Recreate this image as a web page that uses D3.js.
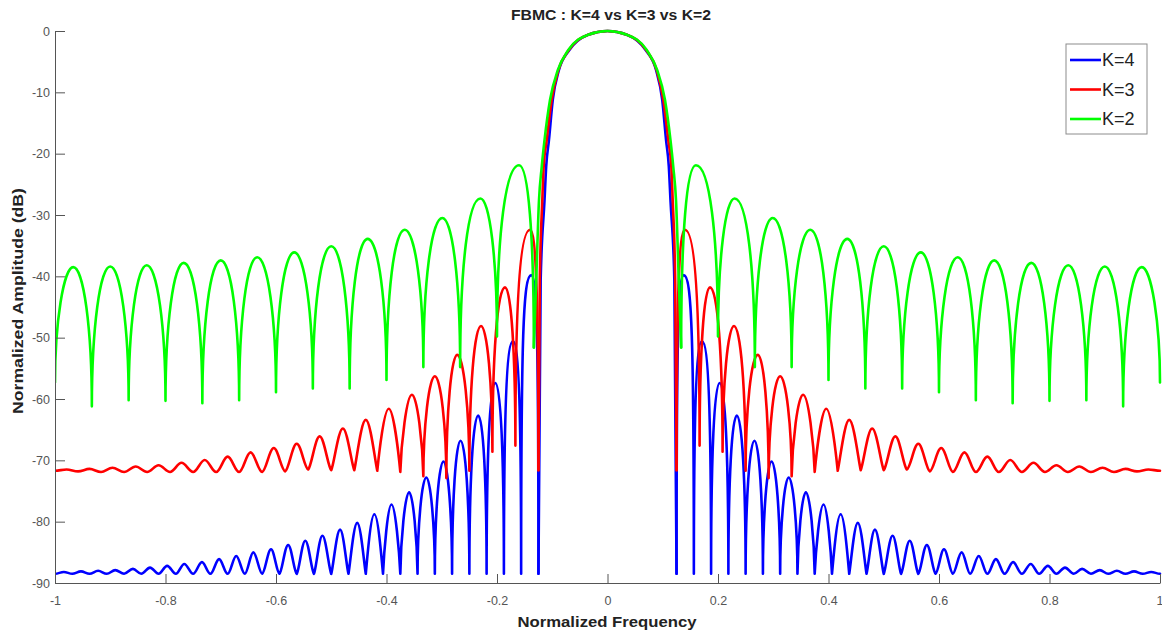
<!DOCTYPE html>
<html>
<head>
<meta charset="utf-8">
<script src="https://cdn.jsdelivr.net/npm/d3@7"></script>
<style>
  body { margin: 0; background: #fff; }
  svg { font-family: "Liberation Sans", Arial, sans-serif; }
</style>
</head>
<body>
<script>
// ---- data (positive frequencies, the plot is symmetric) ----
var xTicks = [-1, -0.8, -0.6, -0.4, -0.2, 0, 0.2, 0.4, 0.6, 0.8, 1];
var xTickLabels = ["-1", "-0.8", "-0.6", "-0.4", "-0.2", "0", "0.2", "0.4", "0.6", "0.8", "1"];
var yTicks = [0, -10, -20, -30, -40, -50, -60, -70, -80, -90];
var yTickLabels = ["0", "-10", "-20", "-30", "-40", "-50", "-60", "-70", "-80", "-90"];

// main lobe: levels (dB) and where each curve crosses them
var mainLevels = [0, -0.6, -3.1, -6.4, -11.2, -17.8, -22.1, -27.6, -40.6];
var k4MainF = [0, 0.035, 0.069, 0.088, 0.099, 0.106, 0.111, 0.114, 0.121];
var k3MainF = [0, 0.035, 0.070, 0.089, 0.101, 0.110, 0.1155, 0.118, 0.1225];
var k2MainF = [0, 0.035, 0.071, 0.090, 0.104, 0.114, 0.119, 0.124, 0.129];

// K=4 side lobes
var k4NullF = [0.125, 0.1563, 0.1875, 0.2188, 0.25, 0.2813, 0.3125, 0.3438, 0.375, 0.4063,
  0.4375, 0.4688, 0.5, 0.5313, 0.5625, 0.5938, 0.625, 0.6563, 0.6875, 0.7188, 0.75, 0.7813,
  0.8125, 0.8438, 0.875, 0.9063, 0.9375, 0.9688, 1];
var k4NullDb = [-88.5, -88.5, -88.5, -88.5, -88.5, -88.5, -88.5, -88.5, -88.5, -88.5,
  -88.5, -88.5, -88.5, -88.5, -88.5, -88.5, -88.5, -88.5, -88.5, -88.5, -88.5, -88.5,
  -88.5, -88.5, -88.5, -88.5, -88.5, -88.5, -88.5];
var k4PeakF = [0.138, 0.171, 0.203, 0.234, 0.266, 0.297, 0.328, 0.359, 0.391, 0.422, 0.453,
  0.484, 0.516, 0.547, 0.578, 0.609, 0.641, 0.672, 0.703, 0.734, 0.766, 0.797, 0.828, 0.859,
  0.891, 0.922, 0.953, 0.984];
var k4PeakDb = [-39.8, -50.6, -57.4, -62.7, -66.8, -70.2, -72.8, -75.2, -77.2, -78.8, -80.2,
  -81.3, -82.3, -83.1, -83.8, -84.5, -85.0, -85.6, -86.1, -86.6, -86.9, -87.2, -87.5, -87.7,
  -87.9, -88.0, -88.1, -88.2];

// K=3 side lobes
var k3NullF = [0.125, 0.1667, 0.2083, 0.25, 0.2917, 0.3333, 0.375, 0.4167, 0.4583, 0.5,
  0.5417, 0.5833, 0.625, 0.6667, 0.7083, 0.75, 0.7917, 0.8333, 0.875, 0.9167, 0.9583, 1];
var k3NullDb = [-71.6, -67.6, -68.6, -71.7, -72.9, -72.6, -71.9, -71.7, -71.6, -71.6,
  -71.5, -71.8, -71.9, -71.9, -71.9, -71.9, -71.9, -71.9, -71.9, -71.9, -71.8, -71.7];
var k3PeakF = [0.140, 0.1855, 0.229, 0.272, 0.3125, 0.354, 0.396, 0.4375, 0.479, 0.521,
  0.5625, 0.604, 0.646, 0.6875, 0.729, 0.771, 0.8125, 0.854, 0.896, 0.9375, 0.979];
var k3PeakDb = [-32.4, -41.8, -48.1, -52.8, -56.3, -59.3, -61.6, -63.4, -64.8, -66.1,
  -67.3, -68.0, -68.7, -69.4, -69.95, -70.4, -70.8, -71.0, -71.2, -71.4, -71.5];

// K=2 side lobes
var k2NullF = [0.1333, 0.2, 0.2667, 0.3333, 0.4, 0.4667, 0.5333, 0.6, 0.6667, 0.7333,
  0.8, 0.8667, 0.9333, 1];
var k2NullDb = [-51.6, -49.8, -54.8, -54.8, -56.9, -58.3, -58.3, -58.9, -60.2, -60.7,
  -60.3, -60.2, -61.2, -57.3];
var k2PeakF = [0.160, 0.230, 0.299, 0.367, 0.434, 0.500, 0.567, 0.634, 0.700, 0.767,
  0.834, 0.900, 0.967];
var k2PeakDb = [-21.9, -27.3, -30.5, -32.4, -33.9, -35.1, -36.1, -36.9, -37.4, -37.8,
  -38.2, -38.4, -38.5];

var series = [
  { name: "K=4", color: "#0000ff", mainF: k4MainF, nullF: k4NullF, nullDb: k4NullDb, peakF: k4PeakF, peakDb: k4PeakDb },
  { name: "K=3", color: "#ff0000", mainF: k3MainF, nullF: k3NullF, nullDb: k3NullDb, peakF: k3PeakF, peakDb: k3PeakDb },
  { name: "K=2", color: "#00ff00", mainF: k2MainF, nullF: k2NullF, nullDb: k2NullDb, peakF: k2PeakF, peakDb: k2PeakDb }
];

var width = 1162, height = 632;

var x = d3.scaleLinear().domain([-1, 1]).range([55, 1160]);
var y = d3.scaleLinear().domain([-90, 0]).range([583, 31]);

var svg = d3.select("body").append("svg")
  .attr("width", width)
  .attr("height", height);

svg.append("defs").append("clipPath").attr("id", "plotclip")
  .append("rect")
  .attr("x", x(-1)).attr("y", y(0) - 2)
  .attr("width", x(1) - x(-1) + 2).attr("height", y(-90) - y(0) + 2);

// one half of a side lobe: null <-> peak. deep nulls get a vertical tangent,
// shallow ripples get a plain wave
function halfLobe(p, xn, yn, xp, yp, depth, toPeak) {
  var s = Math.max(0, Math.min(1, (depth - 3) / 12));
  var k = Math.max(0.45, Math.min(0.82, 0.55 + (depth - 22) * 0.009));
  var dx = xp - xn, dy = yp - yn;
  var cnx = xn + dx * 0.36 * (1 - s), cny = yn + dy * k * s;
  var cpx = xp - dx * (0.36 * (1 - s) + k * s), cpy = yp;
  if (toPeak) p.bezierCurveTo(cnx, cny, cpx, cpy, xp, yp);
  else p.bezierCurveTo(cpx, cpy, cnx, cny, xn, yn);
}

function sidePath(nf, nd, pf, pd, sign) {
  var p = d3.path();
  p.moveTo(x(sign * nf[0]), y(nd[0]));
  for (var i = 0; i < pf.length; i++) {
    var xp = x(sign * pf[i]), yp = y(pd[i]);
    halfLobe(p, x(sign * nf[i]), y(nd[i]), xp, yp, pd[i] - nd[i], true);
    halfLobe(p, x(sign * nf[i + 1]), y(nd[i + 1]), xp, yp, pd[i] - nd[i + 1], false);
  }
  return p.toString();
}

var mainLine = d3.line()
  .x(function (d) { return x(d[0]); })
  .y(function (d) { return y(d[1]); })
  .curve(d3.curveMonotoneX);

var plot = svg.append("g").attr("clip-path", "url(#plotclip)");

series.forEach(function (s) {
  var pts = [[-s.nullF[0], s.nullDb[0]]];
  for (var i = s.mainF.length - 1; i >= 1; i--) pts.push([-s.mainF[i], mainLevels[i]]);
  for (var j = 0; j < s.mainF.length; j++) pts.push([s.mainF[j], mainLevels[j]]);
  pts.push([s.nullF[0], s.nullDb[0]]);

  var g = plot.append("g")
    .attr("fill", "none")
    .attr("stroke", s.color)
    .attr("stroke-width", 2.6)
    .attr("stroke-linejoin", "round")
    .attr("stroke-linecap", "round");

  g.append("path").attr("d", mainLine(pts));
  g.append("path").attr("d", sidePath(s.nullF, s.nullDb, s.peakF, s.peakDb, 1));
  g.append("path").attr("d", sidePath(s.nullF, s.nullDb, s.peakF, s.peakDb, -1));
});

// axes
var xAxis = d3.axisBottom(x)
  .tickValues(xTicks)
  .tickFormat(function (d, i) { return xTickLabels[i]; })
  .tickSize(-9)
  .tickSizeOuter(0)
  .tickPadding(13);

var yAxis = d3.axisLeft(y)
  .tickValues(yTicks)
  .tickFormat(function (d, i) { return yTickLabels[i]; })
  .tickSize(-10)
  .tickSizeOuter(0)
  .tickPadding(5);

var gx = svg.append("g")
  .attr("transform", "translate(0," + y(-90) + ")")
  .call(xAxis);

var gy = svg.append("g")
  .attr("transform", "translate(" + x(-1) + ",0)")
  .call(yAxis);

[gx, gy].forEach(function (g) {
  g.select(".domain").attr("stroke", "#555").attr("stroke-width", 1);
  g.selectAll(".tick line").attr("stroke", "#555");
  g.selectAll(".tick text")
    .attr("fill", "#555")
    .style("font-size", "12.5px")
    .style("font-family", "'Liberation Sans', Arial, sans-serif");
});
// last x label sits on the picture edge: keep it inside
gx.selectAll(".tick text").filter(function (d) { return d === 1; })
  .attr("text-anchor", "end").attr("dx", "3");

// titles
svg.append("text")
  .attr("x", 611).attr("y", 20)
  .attr("text-anchor", "middle")
  .attr("textLength", 200).attr("lengthAdjust", "spacingAndGlyphs")
  .style("font-size", "14px").style("font-weight", "bold")
  .attr("fill", "#222")
  .text("FBMC : K=4 vs K=3 vs K=2");

svg.append("text")
  .attr("x", 607).attr("y", 627)
  .attr("text-anchor", "middle")
  .attr("textLength", 179).attr("lengthAdjust", "spacingAndGlyphs")
  .style("font-size", "15px").style("font-weight", "bold")
  .attr("fill", "#222")
  .text("Normalized Frequency");

svg.append("text")
  .attr("transform", "translate(23,301) rotate(-90)")
  .attr("text-anchor", "middle")
  .attr("textLength", 226).attr("lengthAdjust", "spacingAndGlyphs")
  .style("font-size", "15px").style("font-weight", "bold")
  .attr("fill", "#222")
  .text("Normalized Amplitude (dB)");

// legend
var legend = svg.append("g").attr("transform", "translate(1066,44)");
legend.append("rect")
  .attr("width", 81).attr("height", 90)
  .attr("fill", "#fff").attr("stroke", "#8c8c8c");

series.forEach(function (s, i) {
  var row = legend.append("g").attr("transform", "translate(0," + (16 + i * 29.5) + ")");
  row.append("line")
    .attr("x1", 4).attr("x2", 35)
    .attr("stroke", s.color).attr("stroke-width", 2.6);
  row.append("text")
    .attr("x", 36).attr("dy", "0.35em")
    .style("font-size", "18px")
    .attr("fill", "#222")
    .text(s.name);
});
</script>
</body>
</html>
